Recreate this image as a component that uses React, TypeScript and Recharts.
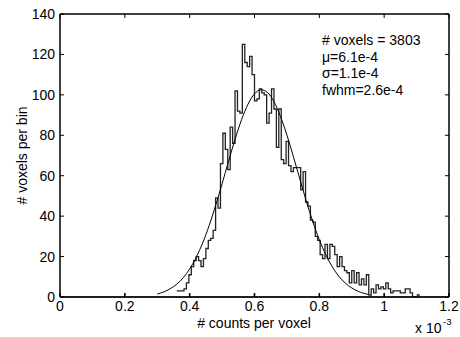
import React from 'react';
import { LineChart, Line, XAxis, YAxis, ReferenceArea, Customized } from 'recharts';

// Histogram (x in units of 1e-3 counts per voxel)
const histBinStart = 0.36;
const histBinWidth = 0.0075;
const histCounts = [
  3, 3, 3, 4, 7, 11, 15, 18, 20, 18,
  15, 19, 24, 28, 29, 33, 49, 44, 66, 81,
  73, 63, 84, 76, 102, 92, 91, 125, 116, 114,
  119, 110, 97, 98, 103, 101, 100, 86, 91, 103,
  93, 74, 93, 68, 66, 77, 65, 62, 64, 64,
  64, 53, 62, 47, 45, 38, 37, 30, 28, 21,
  19, 26, 19, 26, 25, 21, 15, 20, 15, 13,
  12, 7, 13, 7, 12, 6, 9, 6, 11, 1,
  4, 2, 6, 4, 5, 4, 7, 4, 2, 3,
  3, 3, 2, 2, 4, 4, 2, 0, 0, 1,
];

// Gaussian fit curve
const fitX = [0.30, 0.32, 0.34, 0.36, 0.38, 0.40, 0.42, 0.44, 0.46, 0.48, 0.50, 0.52, 0.54, 0.56, 0.58, 0.60, 0.62, 0.64, 0.66, 0.68, 0.70, 0.72, 0.74, 0.76, 0.78, 0.80, 0.82, 0.84, 0.86, 0.88, 0.90, 0.92, 0.94, 0.95];
const fitY = [1.5, 2.5, 4.1, 6.3, 9.5, 13.9, 19.6, 26.7, 35.3, 45.2, 56.0, 67.2, 78.0, 87.7, 95.4, 100.5, 102.5, 101.2, 96.7, 89.4, 80.1, 69.4, 58.3, 47.3, 37.2, 28.3, 20.9, 14.9, 10.3, 6.9, 4.5, 2.8, 1.7, 1.3];

const xTicks = [0, 0.2, 0.4, 0.6, 0.8, 1, 1.2];
const yTicks = [0, 20, 40, 60, 80, 100, 120, 140];

const statLines = ['# voxels = 3803', 'μ=6.1e-4', 'σ=1.1e-4', 'fwhm=2.6e-4'];
const xLabel = '# counts per voxel';
const yLabel = '# voxels per bin';

const histData = histCounts.map((c, i) => ({ x: histBinStart + i * histBinWidth, y: c }));
histData.push({ x: histBinStart + histCounts.length * histBinWidth, y: histCounts[histCounts.length - 1] });
const fitData = fitX.map((x, i) => ({ x, y: fitY[i] }));

const FONT = '"Liberation Sans", Arial, Helvetica, sans-serif';
const FS = 14;

const Texts = () => (
  <g style={{ fontFamily: FONT }} fill="#000">
    {statLines.map((s, i) => (
      <text key={i} x={322} y={45 + i * 16.7} fontSize={FS}>{s}</text>
    ))}
    <text x={254} y={328} fontSize={FS} textAnchor="middle">{xLabel}</text>
    <text x={27} y={155.5} fontSize={FS} textAnchor="middle" transform="rotate(-90 27 155.5)">{yLabel}</text>
    <text x={415} y={333} fontSize={FS}>x 10</text>
    <text x={443} y={325} fontSize={9.5}>-3</text>
  </g>
);

export default function App() {
  const tickStyle = { fontSize: FS, fill: '#000', fontFamily: FONT };
  return (
    <div style={{ position: 'absolute', left: 0, top: 0 }}>
      <LineChart width={460} height={337} margin={{ top: 13, right: 10, left: 0, bottom: 0 }}>
        <XAxis xAxisId="b" dataKey="x" type="number" domain={[0, 1.2]} ticks={xTicks} allowDataOverflow interval={0}
          height={40} tickSize={-4} tickMargin={8} tick={tickStyle} stroke="#000" strokeWidth={1.6}
          tickFormatter={(v: number) => String(v)} />
        <XAxis xAxisId="t" orientation="top" dataKey="x" type="number" domain={[0, 1.2]} ticks={xTicks} allowDataOverflow interval={0}
          height={1} tickSize={-4} tickFormatter={() => ''} stroke="#000" />
        <YAxis yAxisId="l" type="number" domain={[0, 140]} ticks={yTicks} allowDataOverflow interval={0}
          width={60} tickSize={-4} tickMargin={9} tick={tickStyle} stroke="#000" />
        <YAxis yAxisId="r" orientation="right" type="number" domain={[0, 140]} ticks={yTicks} allowDataOverflow interval={0}
          width={1} tickSize={-4} tickFormatter={() => ''} stroke="#000" />
        <ReferenceArea xAxisId="b" yAxisId="l" x1={0} x2={1.2} y1={0} y2={140} fill="none" stroke="#000" strokeWidth={1} ifOverflow="visible" />
        <Line xAxisId="b" yAxisId="l" data={histData} dataKey="y" type="stepAfter" stroke="#222" strokeWidth={1.3}
          dot={false} activeDot={false} isAnimationActive={false} />
        <Line xAxisId="b" yAxisId="l" data={fitData} dataKey="y" type="monotone" stroke="#000" strokeWidth={1}
          dot={false} activeDot={false} isAnimationActive={false} />
        <Customized component={<Texts />} />
      </LineChart>
    </div>
  );
}
